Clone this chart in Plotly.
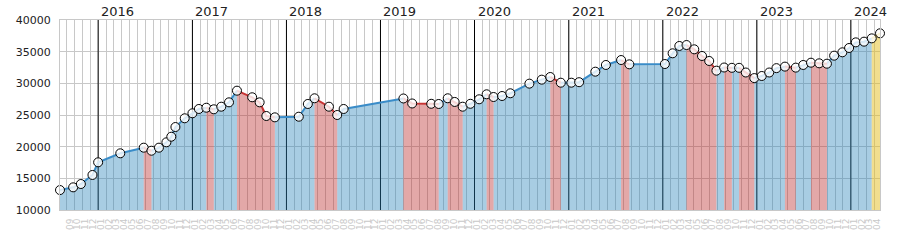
import plotly.graph_objects as go

# ---------------- data ----------------
dates = [
    "2015-08-06", "2015-09-26", "2015-10-26", "2015-12-10", "2016-01-01",
    "2016-03-27", "2016-06-26", "2016-07-26", "2016-08-24", "2016-09-22",
    "2016-10-11", "2016-10-27", "2016-12-02", "2017-01-01", "2017-01-26",
    "2017-02-24", "2017-03-25", "2017-04-23", "2017-05-23", "2017-06-23",
    "2017-08-21", "2017-09-19", "2017-10-15", "2017-11-17", "2018-02-18",
    "2018-03-25", "2018-04-20", "2018-06-15", "2018-07-17", "2018-08-11",
    "2019-03-31", "2019-05-04", "2019-07-17", "2019-08-15", "2019-09-19",
    "2019-10-16", "2019-11-16", "2019-12-16", "2020-01-19", "2020-02-17",
    "2020-03-15", "2020-04-17", "2020-05-19", "2020-08-01", "2020-09-18",
    "2020-10-21", "2020-12-01", "2021-01-11", "2021-02-10", "2021-04-14",
    "2021-05-25", "2021-07-23", "2021-08-24", "2022-01-09", "2022-02-08",
    "2022-03-06", "2022-04-03", "2022-05-03", "2022-06-02", "2022-06-30",
    "2022-07-28", "2022-08-27", "2022-09-26", "2022-10-24", "2022-11-19",
    "2022-12-22", "2023-01-20", "2023-02-18", "2023-03-18", "2023-04-20",
    "2023-06-01", "2023-06-30", "2023-07-30", "2023-08-31", "2023-09-30",
    "2023-10-28", "2023-11-29", "2023-12-25", "2024-01-20", "2024-02-21",
    "2024-03-22", "2024-04-23",
]
values = [
    13150, 13580, 14100, 15530, 17530,
    18950, 19840, 19360, 19840, 20690,
    21570, 23100, 24480, 25270, 25950,
    26150, 25900, 26310, 27000, 28840,
    27800, 27000, 24840, 24630, 24730,
    26740, 27640, 26310, 25000, 25950,
    27610, 26820, 26770, 26740, 27640,
    27060, 26310, 26770, 27480, 28270,
    27840, 28000, 28430, 29950, 30580,
    31000, 30100, 30100, 30180, 31840,
    32900, 33680, 33000, 33050, 34740,
    35900, 36050, 35370, 34320, 33530,
    32000, 32500, 32450, 32450, 31710,
    30830, 31160, 31710, 32400, 32640,
    32480, 32900, 33260, 33160, 33100,
    34370, 34900, 35580, 36470, 36580,
    37100, 37900,
]
years = [2016, 2017, 2018, 2019, 2020, 2021, 2022, 2023, 2024]
y_min, y_max, y_step = 10000, 40000, 5000

# ---------------- styles ----------------
FONT = "DejaVu Sans"
line_colors = {"up": "#3a8cc8", "down": "#c83434", "last": "#e2b820"}
fill_colors = {"up": "rgba(38,130,185,0.4)", "down": "rgba(185,38,38,0.4)",
               "last": "rgba(228,190,30,0.5)"}
grid_color = "#c8c8c8"

# segment direction
n = len(values)
kinds = []
for i in range(n - 1):
    if i == n - 2:
        kinds.append("last")
    elif values[i + 1] < values[i]:
        kinds.append("down")
    else:
        kinds.append("up")

# group into runs of equal kind
runs = []
start = 0
for i in range(1, len(kinds) + 1):
    if i == len(kinds) or kinds[i] != kinds[start]:
        runs.append((kinds[start], start, i))
        start = i

fx = {k: [] for k in line_colors}
fy = {k: [] for k in line_colors}
lx = {k: [] for k in line_colors}
ly = {k: [] for k in line_colors}
for kind, a, b in runs:
    xs = dates[a:b + 1]
    ys = values[a:b + 1]
    fx[kind] += xs + [xs[-1], xs[0], xs[0], None]
    fy[kind] += ys + [y_min, y_min, ys[0], None]
    lx[kind] += xs + [None]
    ly[kind] += ys + [None]

fig = go.Figure()

# year separator lines (drawn first so the translucent fills sit on top)
yl_x, yl_y = [], []
for yr in years:
    d = f"{yr}-01-01"
    yl_x += [d, d, None]
    yl_y += [y_min, y_max, None]
fig.add_trace(go.Scatter(x=yl_x, y=yl_y, mode="lines",
                         line=dict(color="black", width=1),
                         hoverinfo="skip", showlegend=False))

for k in ["up", "down", "last"]:
    fig.add_trace(go.Scatter(x=fx[k], y=fy[k], mode="none", fill="toself",
                             fillcolor=fill_colors[k], hoverinfo="skip",
                             showlegend=False))
for k in ["up", "down", "last"]:
    fig.add_trace(go.Scatter(x=lx[k], y=ly[k], mode="lines",
                             line=dict(color=line_colors[k], width=2),
                             hoverinfo="skip", showlegend=False))
fig.add_trace(go.Scatter(x=dates, y=values, mode="markers", cliponaxis=False,
                         marker=dict(symbol="circle", size=9,
                                     color="rgba(255,255,255,0.8)",
                                     line=dict(color="black", width=1)),
                         showlegend=False))

annotations = []
for yr in years:
    d = f"{yr}-01-01"
    annotations.append(dict(text=str(yr), x=d, xref="x", y=1, yref="paper",
                            xanchor="left", yanchor="bottom", showarrow=False,
                            xshift=1, yshift=-1,
                            font=dict(family=FONT, size=13, color="#222")))

fig.update_layout(
    width=900, height=250,
    margin=dict(l=60, r=20, t=20, b=40),
    paper_bgcolor="white", plot_bgcolor="white",
    font=dict(family=FONT),
    annotations=annotations,
    xaxis=dict(type="date", range=[dates[0], dates[-1]], dtick="M1",
               tick0="2000-01-01", tickformat="%m", tickangle=-90,
               tickfont=dict(family=FONT, size=9, color="#c8c8c8"),
               showgrid=True, gridcolor=grid_color, gridwidth=1,
               showline=True, linecolor=grid_color, mirror=True,
               ticks="", ticklabelshift=3, ticklabelstandoff=4,
               zeroline=False),
    yaxis=dict(range=[y_min, y_max], dtick=y_step, tick0=y_min,
               tickformat="d",
               tickfont=dict(family=FONT, size=11, color="#222"),
               showgrid=True, gridcolor=grid_color, gridwidth=1,
               showline=True, linecolor=grid_color, mirror=True,
               ticks="", ticklabelstandoff=6, zeroline=False),
)

fig.write_html("out.html")
